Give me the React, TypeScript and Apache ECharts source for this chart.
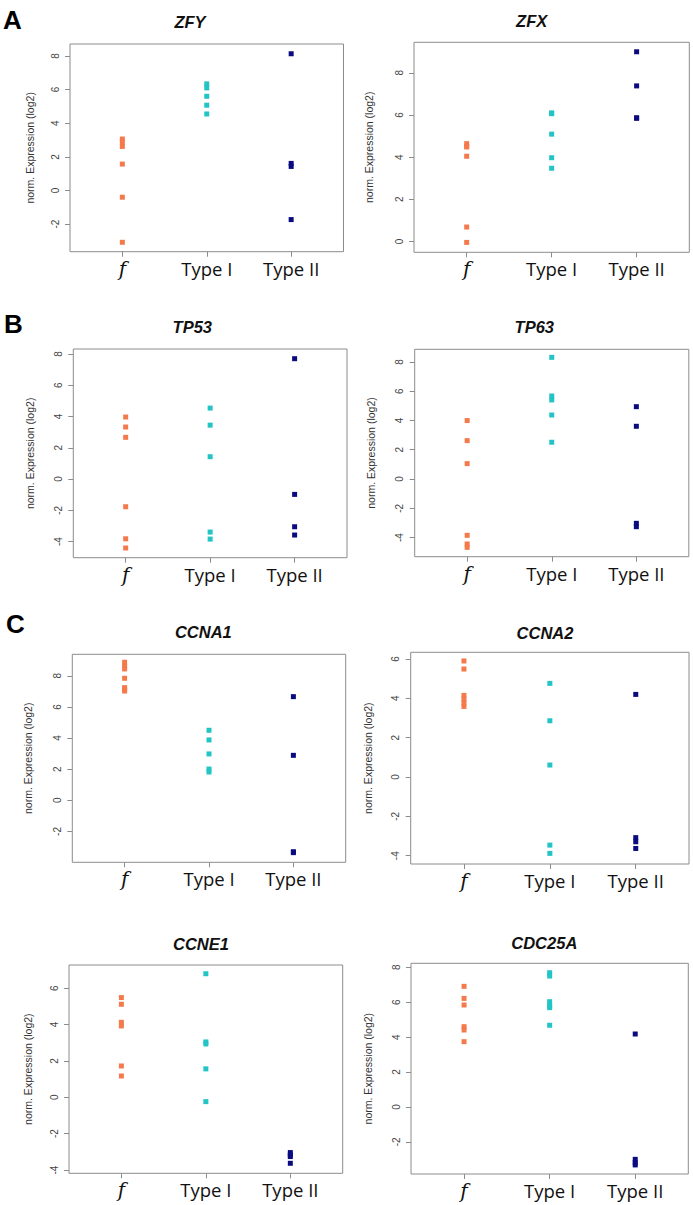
import React, { useEffect, useRef } from "react";
import * as echarts from "echarts";

// ---- data ----
const categories = ["f", "Type I", "Type II"];

const zfyF = [3.06, 2.86, 2.62, 1.57, -0.4, -3.08];
const zfyT1 = [6.34, 6.1, 5.6, 5.07, 4.55];
const zfyT2 = [8.13, 1.61, 1.43, -1.73];
const zfyTicks = [-2, 0, 2, 4, 6, 8];

const zfxF = [4.64, 4.51, 4.48, 4.04, 0.68, -0.05];
const zfxT1 = [6.1, 6.06, 5.09, 3.97, 3.47];
const zfxT2 = [9.0, 7.38, 5.87, 5.84];
const zfxTicks = [0, 2, 4, 6, 8];

const tp53F = [3.97, 3.33, 2.67, -1.77, -3.82, -4.41];
const tp53T1 = [4.54, 3.45, 1.43, -3.39, -3.84];
const tp53T2 = [7.7, -0.98, -3.05, -3.58];
const tp53Ticks = [-4, -2, 0, 2, 4, 6, 8];

const tp63F = [3.99, 2.62, 1.05, -3.85, -4.44, -4.67];
const tp63T1 = [8.31, 5.67, 5.4, 4.37, 2.51];
const tp63T2 = [4.94, 3.6, -3.03, -3.26];
const tp63Ticks = [-4, -2, 0, 2, 4, 6, 8];

const ccna1F = [8.87, 8.63, 8.44, 7.84, 7.24, 7.13, 7.02];
const ccna1T1 = [4.5, 3.88, 2.98, 2.01, 1.82];
const ccna1T2 = [6.66, 2.89, -3.3, -3.36];
const ccna1Ticks = [-2, 0, 2, 4, 6, 8];

const ccna2F = [5.9, 5.49, 4.15, 3.97, 3.78, 3.59];
const ccna2T1 = [4.76, 2.86, 0.61, -3.46, -3.88];
const ccna2T2 = [4.2, -3.08, -3.29, -3.63];
const ccna2Ticks = [-4, -2, 0, 2, 4, 6];

const ccne1F = [5.48, 5.11, 4.12, 3.92, 1.72, 1.17];
const ccne1T1 = [6.79, 3.04, 2.93, 1.56, -0.24];
const ccne1T2 = [-3.04, -3.17, -3.26, -3.63];
const ccne1Ticks = [-4, -2, 0, 2, 4, 6];

const cdc25aF = [6.91, 6.22, 5.84, 4.6, 4.41, 3.74];
const cdc25aT1 = [7.69, 7.5, 6.03, 5.8, 5.69, 4.68];
const cdc25aT2 = [4.18, -3.0, -3.19, -3.32];
const cdc25aTicks = [-2, 0, 2, 4, 6, 8];

const panels = [
  { title: "ZFY", groups: [zfyF, zfyT1, zfyT2], ticks: zfyTicks, min: -3.64, max: 8.71 },
  { title: "ZFX", groups: [zfxF, zfxT1, zfxT2], ticks: zfxTicks, min: -0.52, max: 9.45 },
  { title: "TP53", groups: [tp53F, tp53T1, tp53T2], ticks: tp53Ticks, min: -5.03, max: 8.32 },
  { title: "TP63", groups: [tp63F, tp63T1, tp63T2], ticks: tp63Ticks, min: -5.31, max: 8.86 },
  { title: "CCNA1", groups: [ccna1F, ccna1T1, ccna1T2], ticks: ccna1Ticks, min: -3.98, max: 9.38 },
  { title: "CCNA2", groups: [ccna2F, ccna2T1, ccna2T2], ticks: ccna2Ticks, min: -4.42, max: 6.34 },
  { title: "CCNE1", groups: [ccne1F, ccne1T1, ccne1T2], ticks: ccne1Ticks, min: -4.18, max: 7.27 },
  { title: "CDC25A", groups: [cdc25aF, cdc25aT1, cdc25aT2], ticks: cdc25aTicks, min: -3.84, max: 8.23 },
];

// ---- layout (pixels) ----
const boxes = [
  { l: 70, r: 343.5, t: 44, b: 251.7, tx: 190, ty: 21.7, nx: 30 },
  { l: 414, r: 689.3, t: 42.3, b: 252.3, tx: 531.7, ty: 20.7, nx: 369.3 },
  { l: 73.3, r: 347, t: 349, b: 557.7, tx: 192.3, ty: 326.7, nx: 30 },
  { l: 414.7, r: 688.8, t: 349.3, b: 556.7, tx: 534.3, ty: 326.7, nx: 371.7 },
  { l: 72.3, r: 345.7, t: 654.3, b: 862.3, tx: 203.3, ty: 632.3, nx: 28.3 },
  { l: 410.7, r: 689, t: 652.3, b: 864, tx: 545, ty: 632.7, nx: 368.3 },
  { l: 69, r: 342.7, t: 965, b: 1173.3, tx: 201, ty: 944, nx: 28.3 },
  { l: 411, r: 688.3, t: 963.3, b: 1174, tx: 544.3, ty: 943.3, nx: 368.3 },
];
const W = 693;
const H = 1205;
const colors = ["#F47A4C", "#22C4C6", "#0B0B80"];
const letters = [
  { text: "A", x: 3, y: 7 },
  { text: "B", x: 4, y: 311 },
  { text: "C", x: 6, y: 611 },
];

export default function App() {
  const ref = useRef<HTMLDivElement>(null);
  useEffect(() => {
    if (!ref.current) return;
    const chart = echarts.init(ref.current, null, { renderer: "svg" });
    const grid: any[] = [];
    const xAxis: any[] = [];
    const yAxis: any[] = [];
    const series: any[] = [];
    const graphic: any[] = [];
    panels.forEach((p, i) => {
      const bx = boxes[i];
      grid.push({
        left: bx.l,
        top: bx.t,
        width: bx.r - bx.l,
        height: bx.b - bx.t,
        show: true,
        borderColor: "#8c8c8c",
        borderWidth: 1,
        backgroundColor: "transparent",
        outerBoundsMode: "none",
      });
      xAxis.push({
        type: "value",
        gridIndex: i,
        position: "bottom",
        min: 0.38,
        max: 3.62,
        axisLine: { show: false, onZero: false },
        splitLine: { show: false },
        axisTick: {
          show: true,
          customValues: [1, 2, 3],
          length: 5,
          lineStyle: { color: "#8c8c8c" },
        },
        axisLabel: {
          show: true,
          customValues: [1, 2, 3],
          margin: 7,
          formatter: (v: number) =>
            v === 1 ? "{f|" + categories[0] + "}" : "{c|" + categories[Math.round(v) - 1] + "}",
          rich: {
            f: {
              fontFamily: "DejaVu Serif",
              fontStyle: "italic",
              fontSize: 20,
              color: "#111",
            },
            c: { fontFamily: "Open Sans", fontSize: 18.5, color: "#111" },
          },
        },
      });
      yAxis.push({
        type: "value",
        gridIndex: i,
        position: "left",
        min: p.min,
        max: p.max,
        axisLine: { show: false, onZero: false },
        splitLine: { show: false },
        axisTick: {
          show: true,
          customValues: p.ticks,
          length: 5,
          lineStyle: { color: "#8c8c8c" },
        },
        axisLabel: {
          show: true,
          customValues: p.ticks,
          rotate: 90,
          margin: 10,
          fontFamily: "Liberation Sans",
          fontSize: 10,
          color: "#444",
        },
        name: "norm. Expression (log2)",
        nameLocation: "middle",
        nameGap: bx.l - bx.nx - 5,
        nameMoveOverlap: false,
        nameTextStyle: {
          fontFamily: "Liberation Sans",
          fontSize: 10.5,
          color: "#333",
        },
      });
      p.groups.forEach((g, gi) => {
        series.push({
          type: "scatter",
          xAxisIndex: i,
          yAxisIndex: i,
          symbol: "rect",
          symbolSize: 5,
          itemStyle: { color: colors[gi], opacity: 1 },
          data: g.map((v) => [gi + 1, v]),
        });
      });
      graphic.push({
        type: "text",
        x: bx.tx,
        y: bx.ty,
        style: {
          text: p.title,
          fontFamily: "Liberation Sans",
          fontWeight: "bold",
          fontStyle: "italic",
          fontSize: 16.5,
          fill: "#111",
          align: "center",
          verticalAlign: "middle",
        },
      });
    });
    letters.forEach((lt) => {
      graphic.push({
        type: "text",
        x: lt.x,
        y: lt.y,
        style: {
          text: lt.text,
          fontFamily: "Liberation Sans",
          fontWeight: "bold",
          fontSize: 26,
          fill: "#000",
          align: "left",
          verticalAlign: "top",
        },
      });
    });
    chart.setOption({
      animation: false,
      backgroundColor: "#ffffff",
      grid,
      xAxis,
      yAxis,
      series,
      graphic,
    });
    return () => chart.dispose();
  }, []);
  return (
    <div
      ref={ref}
      style={{ position: "absolute", left: 0, top: 0, width: W, height: H }}
    />
  );
}
